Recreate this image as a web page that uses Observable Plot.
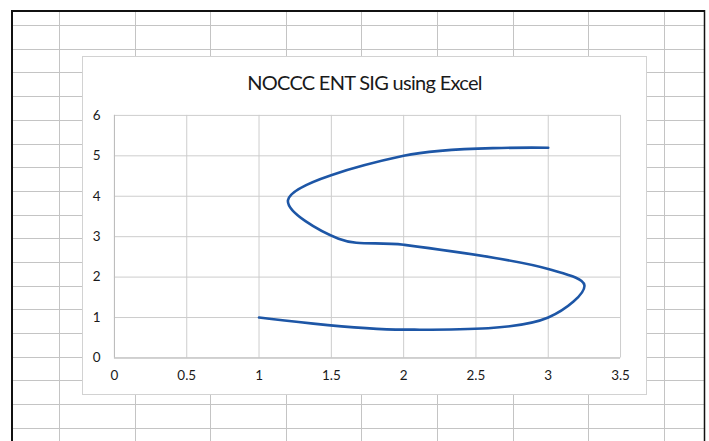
<!DOCTYPE html>
<html>
<head>
<meta charset="utf-8">
<script src="https://cdn.jsdelivr.net/npm/d3@7"></script>
<script src="https://cdn.jsdelivr.net/npm/@observablehq/plot@0.6"></script>
<style>
  html, body { margin: 0; padding: 0; background: #fff; }
  #page { position: relative; width: 709px; height: 441px; overflow: hidden; background: #fff; }
  #sheet { position: absolute; left: 0; top: 0; }
  #chartbox { position: absolute; left: 82px; top: 56px; width: 565px; height: 339px;
    background: #fff; border: 1px solid #d2d2d2; box-sizing: border-box; }
  #title { position: absolute; left: 0; width: 100%; top: 13px; text-align: center;
    font-family: Lato, "Open Sans", sans-serif; font-size: 20px; color: #1a1a1a; letter-spacing: -0.7px; }
  #plot { position: absolute; left: -1px; top: -1px; }
</style>
</head>
<body>
<div id="page">
  <svg id="sheet" width="709" height="441"></svg>
  <div id="chartbox">
    <div id="title"></div>
    <div id="plot"></div>
  </div>
</div>
<script>
// Chart data
const xValues = [1, 2, 3, 3.25, 3, 2, 1.55, 1.2, 2, 3];
const yValues = [1, 0.7, 1, 1.8, 2.2, 2.8, 2.95, 3.9, 5, 5.2];
const xTicks = [0, 0.5, 1, 1.5, 2, 2.5, 3, 3.5];
const yTicks = [0, 1, 2, 3, 4, 5, 6];
const titleText = "NOCCC ENT SIG using Excel";

document.getElementById("title").textContent = titleText;

// Spreadsheet background grid (decoration)
const sheet = d3.select("#sheet");
const colStart = 59, colStep = 75.6, rowStart = 25, rowStep = 23.7;
for (let x = colStart; x < 704; x += colStep) {
  sheet.append("line").attr("x1", Math.round(x) + 0.5).attr("x2", Math.round(x) + 0.5)
    .attr("y1", 11).attr("y2", 441).attr("stroke", "#c4c4c4").attr("stroke-width", 1);
}
for (let y = rowStart; y < 441; y += rowStep) {
  sheet.append("line").attr("y1", Math.round(y) + 0.5).attr("y2", Math.round(y) + 0.5)
    .attr("x1", 12).attr("x2", 704).attr("stroke", "#c4c4c4").attr("stroke-width", 1);
}
sheet.append("line").attr("x1", 12).attr("x2", 12).attr("y1", 10).attr("y2", 441).attr("stroke", "#111").attr("stroke-width", 2);
sheet.append("line").attr("x1", 11).attr("x2", 705).attr("y1", 11).attr("y2", 11).attr("stroke", "#111").attr("stroke-width", 2);
sheet.append("line").attr("x1", 704.5).attr("x2", 704.5).attr("y1", 10).attr("y2", 441).attr("stroke", "#111").attr("stroke-width", 1.5);

const data = xValues.map((x, i) => ({x, y: yValues[i]}));

const chart = Plot.plot({
  width: 565,
  height: 339,
  marginLeft: 32,
  marginRight: 26,
  marginTop: 59,
  marginBottom: 37,
  style: { fontFamily: "Lato, 'Open Sans', sans-serif", fontSize: "13.5px", color: "#1a1a1a", background: "transparent", overflow: "visible" },
  x: { domain: [0, 3.5], ticks: xTicks, label: null },
  y: { domain: [0, 6], ticks: yTicks, label: null },
  marks: [
    Plot.gridX(xTicks, { stroke: "#cdcdcd", strokeOpacity: 1 }),
    Plot.gridY(yTicks, { stroke: "#cdcdcd", strokeOpacity: 1 }),
    Plot.ruleX([0], { stroke: "#bdbdbd" }),
    Plot.ruleY([0], { stroke: "#bdbdbd" }),
    Plot.axisX(xTicks, { tickSize: 0, tickPadding: 12, tickFormat: d => String(d), fill: "#1a1a1a" }),
    Plot.axisY(yTicks, { tickSize: 0, tickPadding: 14, tickFormat: d => String(d), fill: "#1a1a1a" }),
    Plot.line(data, { x: "x", y: "y", curve: "catmull-rom", stroke: "#1d56a6", strokeWidth: 2.6 })
  ]
});
document.getElementById("plot").appendChild(chart);
</script>
</body>
</html>
